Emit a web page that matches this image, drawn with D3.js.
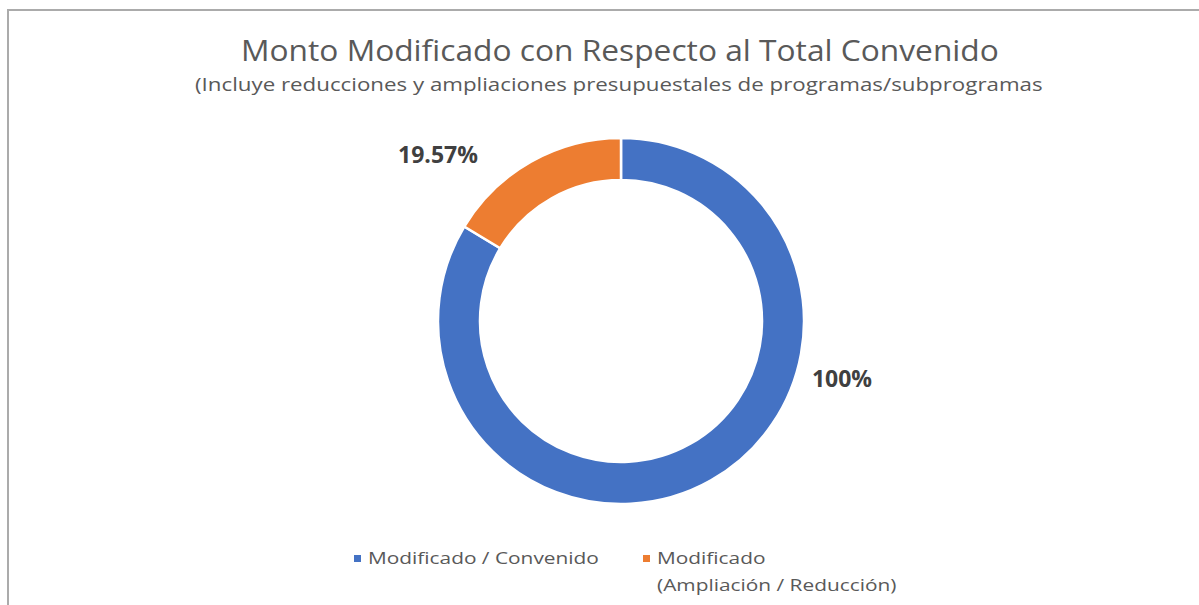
<!DOCTYPE html>
<html>
<head>
<meta charset="utf-8">
<script src="https://cdn.jsdelivr.net/npm/d3@7"></script>
<style>
  html, body { margin: 0; padding: 0; background: #ffffff; }
  svg { display: block; }
</style>
</head>
<body>
<svg id="chart" width="1199" height="605"></svg>
<script>
// ---- data ----
const categories = ["Modificado / Convenido", "Modificado (Ampliación / Reducción)"];
const values = [100, 19.57];
const valueLabels = ["100%", "19.57%"];
const legendLines = [["Modificado / Convenido"], ["Modificado", "(Ampliación / Reducción)"]];
const titleText = "Monto Modificado con Respecto al Total Convenido";
const subtitleText = "(Incluye reducciones y ampliaciones presupuestales de programas/subprogramas";

// ---- layout ----
const W = 1199, H = 605;
const cx = 621, cy = 321, rOuter = 183, rInner = 141;
const colors = d3.scaleOrdinal().domain(categories).range(["#4472C4", "#ED7D31"]);
const fontFam = "'Open Sans', 'Noto Sans', sans-serif";

const svg = d3.select("#chart");

// frame
svg.append("path")
  .attr("d", `M8,${H} L8,10 L${W},10`)
  .attr("fill", "none").attr("stroke", "#ababab").attr("stroke-width", 2);

// text scaled horizontally to a given width (start-anchored at x0, baseline y0)
function scaledText(parent, str, x0, y0, size, targetW, fill, sxFixed) {
  const g = parent.append("g");
  const t = g.append("text")
    .attr("x", 0).attr("y", 0)
    .attr("font-family", fontFam).attr("font-size", size)
    .attr("fill", fill)
    .text(str);
  const w = t.node().getComputedTextLength();
  const sx = sxFixed || (targetW / w);
  g.attr("transform", `translate(${x0},${y0}) scale(${sx.toFixed(4)},1)`);
  return sx;
}

// title and subtitle
scaledText(svg, titleText, 241, 61, 30, 758, "#595959");
scaledText(svg, subtitleText, 195, 91, 18.5, 848, "#595959");

// donut
const pie = d3.pie().sort(null).value(d => d.value);
const arcs = pie(categories.map((c, i) => ({ cat: c, value: values[i], label: valueLabels[i] })));
const arc = d3.arc().innerRadius(rInner).outerRadius(rOuter);

const g = svg.append("g").attr("transform", `translate(${cx},${cy})`);
g.selectAll("path.slice")
  .data(arcs)
  .join("path")
  .attr("class", "slice")
  .attr("d", arc)
  .attr("fill", d => colors(d.data.cat))
  .attr("stroke", "#ffffff")
  .attr("stroke-width", 2.5);

// data labels (placed as in the reference, outside the ring)
const labelPos = [
  { dx: 221, dy: 66 },   // 100%
  { dx: -183, dy: -158 } // 19.57%
];
g.selectAll("text.vlabel")
  .data(arcs)
  .join("text")
  .attr("class", "vlabel")
  .attr("x", (d, i) => labelPos[i].dx)
  .attr("y", (d, i) => labelPos[i].dy)
  .attr("text-anchor", "middle")
  .attr("font-family", fontFam)
  .attr("font-weight", "bold")
  .attr("font-size", 23)
  .attr("fill", "#404040")
  .text(d => d.data.label);

// legend
const legendX = [354, 643];
const lg = svg.append("g");
let legendScale = null;
categories.forEach((c, i) => {
  lg.append("rect")
    .attr("x", legendX[i]).attr("y", 555)
    .attr("width", 7).attr("height", 7)
    .attr("fill", colors(c));
  legendLines[i].forEach((line, j) => {
    const sx = scaledText(lg, line, legendX[i] + 14, 564 + j * 27, 16.5, 231, "#595959", legendScale);
    if (legendScale === null) legendScale = sx;
  });
});
</script>
</body>
</html>
